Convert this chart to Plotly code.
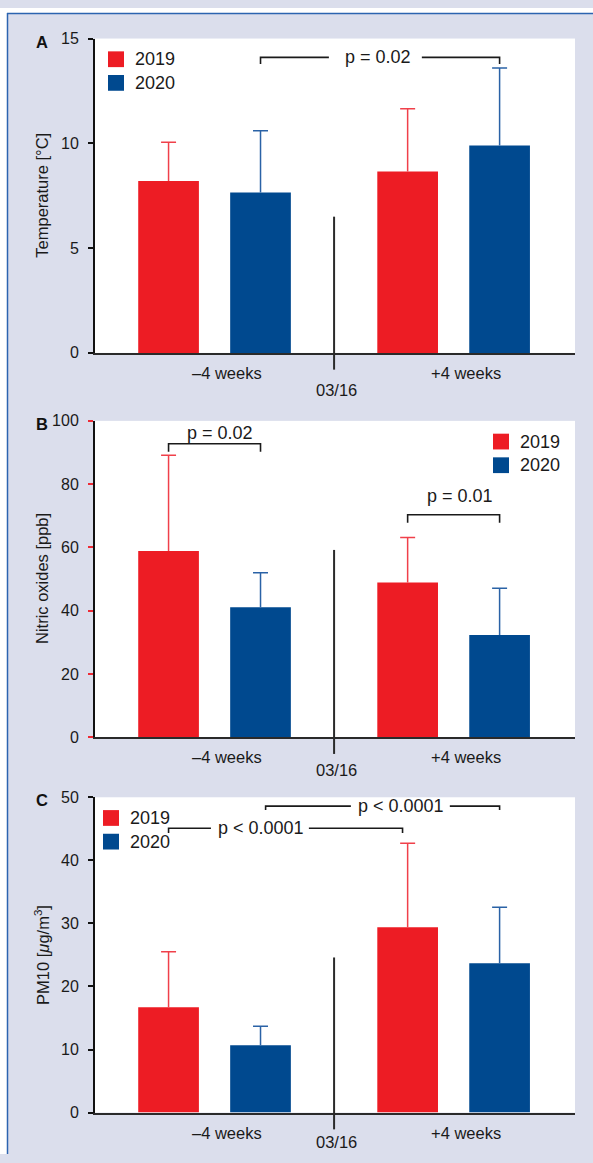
import plotly.graph_objects as go

# ---------------- data ----------------
periods = ["\u20134 weeks", "+4 weeks"]
divider_label = "03/16"
years = ["2019", "2020"]

temp_2019 = [8.2, 8.65]
temp_2019_upper = [10.05, 11.65]
temp_2020 = [7.65, 9.9]
temp_2020_upper = [10.6, 13.6]

no_2019 = [58.9, 48.9]
no_2019_upper = [89.1, 63.1]
no_2020 = [41.1, 32.3]
no_2020_upper = [52.0, 47.1]

pm_2019 = [16.7, 29.4]
pm_2019_upper = [25.5, 42.7]
pm_2020 = [10.7, 23.7]
pm_2020_upper = [13.7, 32.55]

temp_ticks = [0, 5, 10, 15]
no_ticks = [0, 20, 40, 60, 80, 100]
pm_ticks = [0, 10, 20, 30, 40, 50]

# ---------------- style / layout ----------------
W, H = 593, 1163
RED = "#ED1C24"
BLUE = "#00498F"
RED_ERR = "#F0404A"
BLUE_ERR = "#2A62A6"
BG = "#DBDEEC"
BORDER = "#2C64B0"
FONT = "Liberation Sans, Arial, sans-serif"
TXT = "#1a1a1a"

GROUP_CENTERS = [1.3, 3.9]
OFFSET = 0.5
BAR_W = 0.66
XMAX = 5.22
X_DIV = (GROUP_CENTERS[0] + GROUP_CENTERS[1]) / 2
PX_PER_X = 92.0
CAP = 7.5 / PX_PER_X

X_PX = (95, 575)
panels_px = [(31, 350), (419, 740), (801, 1121)]


def px_x(p):
    return p / W


def px_y(p):
    return 1 - p / H


def dx(px):
    return (px - X_PX[0]) / PX_PER_X


fig = go.Figure()
shapes = []
annotations = []

panels = [
    dict(letter="A", ymax=15, ticks=temp_ticks, title="Temperature [°C]",
         s19=temp_2019, u19=temp_2019_upper, s20=temp_2020, u20=temp_2020_upper,
         div_top=6.5, tickcolor="#111"),
    dict(letter="B", ymax=100, ticks=no_ticks, title="Nitric oxides [ppb]",
         s19=no_2019, u19=no_2019_upper, s20=no_2020, u20=no_2020_upper,
         div_top=59.2, tickcolor="#EE2A35"),
    dict(letter="C", ymax=50, ticks=pm_ticks, title="PM10 [<i>\u03bc</i>g/m<sup>3</sup>]",
         s19=pm_2019, u19=pm_2019_upper, s20=pm_2020, u20=pm_2020_upper,
         div_top=24.6, tickcolor="#111"),
]

x19 = [c - OFFSET for c in GROUP_CENTERS]
x20 = [c + OFFSET for c in GROUP_CENTERS]

for i, p in enumerate(panels):
    n = "" if i == 0 else str(i + 1)
    xa, ya = "x" + n, "y" + n
    top_px, bot_px = panels_px[i]
    ph = bot_px - top_px

    for xs, vals, ups, col, ecol, name in [(x19, p["s19"], p["u19"], RED, RED_ERR, years[0]),
                                            (x20, p["s20"], p["u20"], BLUE, BLUE_ERR, years[1])]:
        fig.add_trace(go.Bar(x=xs, y=vals, width=BAR_W, marker=dict(color=col, line=dict(width=0)),
                             xaxis=xa, yaxis=ya, showlegend=False, name=name))
        ex, ey = [], []
        for xv, v, u in zip(xs, vals, ups):
            ex += [xv, xv, None, xv - CAP, xv + CAP, None]
            ey += [v, u, None, u, u, None]
        fig.add_trace(go.Scatter(x=ex, y=ey, mode="lines", line=dict(color=ecol, width=1.5),
                                 xaxis=xa, yaxis=ya, showlegend=False, hoverinfo="skip"))

    dom_y = [px_y(bot_px), px_y(top_px)]
    fig.layout["xaxis" + n] = dict(domain=[px_x(X_PX[0]), px_x(X_PX[1])], range=[0, XMAX],
                                   anchor=ya, showticklabels=False, ticks="", showgrid=False,
                                   zeroline=False, showline=True, linecolor="#2a2a2a", linewidth=2,
                                   fixedrange=True)
    fig.layout["yaxis" + n] = dict(domain=dom_y, range=[0, p["ymax"]], anchor=xa,
                                   tickvals=p["ticks"], ticks="outside", ticklen=5, tickwidth=1.5,
                                   tickcolor=p["tickcolor"], showgrid=False, zeroline=False,
                                   showline=True, linecolor="#111", linewidth=2,
                                   ticklabelstandoff=6,
                                   tickfont=dict(family=FONT, size=16, color=TXT),
                                   fixedrange=True)

    # divider line
    shapes.append(dict(type="line", xref=xa + " domain", yref=ya + " domain",
                       x0=X_DIV / XMAX, x1=X_DIV / XMAX,
                       y0=-17.0 / ph, y1=p["div_top"] / p["ymax"],
                       line=dict(color="#2a2a2a", width=2)))
    # period labels
    for c, lab in zip(GROUP_CENTERS, periods):
        annotations.append(dict(x=c, y=0, xref=xa, yref=ya + " domain", text=lab, showarrow=False,
                                xanchor="center", yanchor="middle", xshift=12,
                                yshift=-20, font=dict(family=FONT, size=16.5, color=TXT)))
    date_shift = [-37, -33, -29][i]
    annotations.append(dict(x=X_DIV, y=0, xref=xa, yref=ya + " domain", text=divider_label,
                            showarrow=False, xanchor="center", yanchor="middle", xshift=2,
                            yshift=date_shift, font=dict(family=FONT, size=16.5, color=TXT)))
    # panel letter
    annotations.append(dict(x=px_x(42), y=px_y(top_px + 3), xref="paper", yref="paper",
                            text="<b>" + p["letter"] + "</b>", showarrow=False,
                            xanchor="center", yanchor="middle",
                            font=dict(family=FONT, size=16.5, color="#111")))
    # y title
    annotations.append(dict(x=px_x(42), y=px_y((top_px + bot_px) / 2), xref="paper", yref="paper",
                            text=p["title"], textangle=-90, showarrow=False,
                            xanchor="center", yanchor="middle",
                            font=dict(family=FONT, size=16.5, color=TXT)))

# legends (pixel positions)
legend_pos = [(108, 44), (493, 432), (103, 814)]
for (lx, ly) in legend_pos:
    for k, (col, name) in enumerate([(RED, years[0]), (BLUE, years[1])]):
        y0 = ly + k * 24
        shapes.append(dict(type="rect", xref="paper", yref="paper",
                           x0=px_x(lx), x1=px_x(lx + 16), y0=px_y(y0 + 16), y1=px_y(y0),
                           fillcolor=col, line=dict(width=0)))
        annotations.append(dict(x=px_x(lx + 25), y=px_y(y0 + 8), xref="paper", yref="paper",
                                text=name, showarrow=False, xanchor="left", yanchor="middle",
                                font=dict(family=FONT, size=18, color=TXT)))


# significance brackets
def bracket(xa, ya, x0, x1, yb, yleg, text, tx, ty, gap=None, xshift=0):
    if gap is None:
        path = f"M {x0},{yleg} L {x0},{yb} L {x1},{yb} L {x1},{yleg}"
    else:
        g0, g1 = gap
        path = (f"M {x0},{yleg} L {x0},{yb} L {g0},{yb} "
                f"M {g1},{yb} L {x1},{yb} L {x1},{yleg}")
    shapes.append(dict(type="path", xref=xa, yref=ya, path=path,
                       line=dict(color=TXT, width=1.6)))
    annotations.append(dict(x=tx, y=ty, xref=xa, yref=ya, text=text, showarrow=False,
                            xanchor="center", yanchor="middle", xshift=xshift,
                            font=dict(family=FONT, size=18, color=TXT)))


bracket("x", "y", x20[0], x20[1], 14.1, 13.78, "p = 0.02",
        dx(378.5), 14.1, gap=(dx(329), dx(422)))
bracket("x2", "y2", x19[0], x20[0], 92.75, 90.25, "p = 0.02",
        GROUP_CENTERS[0], 96.3, xshift=5)
bracket("x2", "y2", x19[1], x20[1], 70.3, 67.8, "p = 0.01",
        GROUP_CENTERS[1], 76.1, xshift=6)
bracket("x3", "y3", x19[0], dx(402.7), 45.1, 44.35, "p < 0.0001",
        dx(261.5), 45.1, gap=(dx(211), dx(309)))
bracket("x3", "y3", dx(265.7), x20[1], 48.6, 48.0, "p < 0.0001",
        dx(401.5), 48.6, gap=(dx(351), dx(450)))

# outer border: white strips + blue lines
shapes.append(dict(type="rect", xref="paper", yref="paper", x0=0, x1=1, y0=px_y(5), y1=1,
                   fillcolor="white", line=dict(width=0), layer="below"))
shapes.append(dict(type="rect", xref="paper", yref="paper", x0=0, x1=px_x(7), y0=0, y1=1,
                   fillcolor="white", line=dict(width=0), layer="below"))
shapes.append(dict(type="line", xref="paper", yref="paper", x0=px_x(7), x1=1, y0=px_y(5.5), y1=px_y(5.5),
                   line=dict(color=BORDER, width=1.5)))
shapes.append(dict(type="line", xref="paper", yref="paper", x0=px_x(7.5), x1=px_x(7.5), y0=0, y1=px_y(5),
                   line=dict(color=BORDER, width=1.5)))

fig.update_layout(width=W, height=H, margin=dict(l=0, r=0, t=0, b=0),
                  paper_bgcolor=BG, plot_bgcolor="white", showlegend=False,
                  barmode="overlay", shapes=shapes, annotations=annotations,
                  font=dict(family=FONT))

fig.write_html("out.html", config={"displayModeBar": False},
               post_script="document.body.style.margin='0px';document.body.style.overflow='hidden';")
